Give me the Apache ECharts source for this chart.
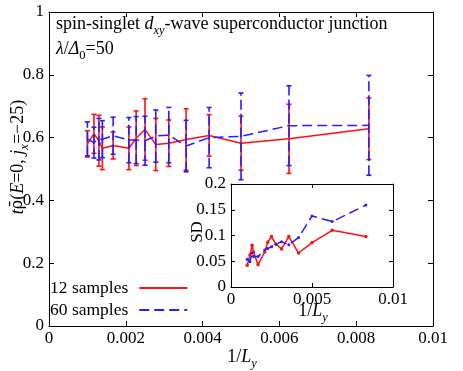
<!DOCTYPE html>
<html>
<head>
<meta charset="utf-8">
<script src="https://cdn.jsdelivr.net/npm/echarts@6/dist/echarts.min.js"></script>
<style>
html, body { margin: 0; padding: 0; background: #fff; }
#chart { width: 463px; height: 371px; }
</style>
</head>
<body>
<div id="chart"></div>
<script>
// 1/Ly of each system size
const invLy = [0.00100, 0.00117, 0.00130, 0.00139, 0.00167, 0.00208, 0.00227, 0.00250,
               0.00278, 0.00312, 0.00357, 0.00417, 0.00500, 0.00625, 0.00833];
// mean LDOS, 12 samples
const mean12 = [0.580, 0.612, 0.590, 0.566, 0.575, 0.566, 0.598, 0.626,
                0.578, 0.582, 0.594, 0.607, 0.582, 0.596, 0.628];
// standard deviation, 12 samples
const sd12 = [0.042, 0.062, 0.081, 0.068, 0.043, 0.068, 0.087, 0.098,
              0.083, 0.074, 0.098, 0.066, 0.086, 0.110, 0.098];
// mean LDOS, 60 samples
const mean60 = [0.596, 0.584, 0.595, 0.595, 0.606, 0.592, 0.592, 0.590,
                0.605, 0.608, 0.573, 0.600, 0.604, 0.638, 0.639];
// standard deviation, 60 samples
const sd60 = [0.054, 0.049, 0.066, 0.059, 0.059, 0.072, 0.075, 0.078,
              0.083, 0.088, 0.082, 0.096, 0.138, 0.127, 0.159];

const mainXTicks = ['0', '0.002', '0.004', '0.006', '0.008', '0.01'];
const mainYTicks = ['0', '0.2', '0.4', '0.6', '0.8', '1'];
const insetXTicks = ['0', '0.005', '0.01'];
const insetYTicks = ['0', '0.05', '0.1', '0.15', '0.2'];

const RED = '#ff1010';
const BLUE = '#2a1cff';
const FONT = 'Liberation Serif';

const chart = echarts.init(document.getElementById('chart'));

function tickFmt(labels, step) {
    return v => labels[Math.round(v / step)];
}

function errBars(color, dash) {
    return function (params, api) {
        const x = api.value(0);
        const lo = api.coord([x, api.value(1)]);
        const hi = api.coord([x, api.value(2)]);
        const w = 2.5;
        const st = { stroke: color, lineWidth: 1.6, lineDash: dash };
        const cap = { stroke: color, lineWidth: 1.6 };
        return {
            type: 'group',
            children: [
                { type: 'line', shape: { x1: lo[0], y1: lo[1], x2: hi[0], y2: hi[1] }, style: st },
                { type: 'line', shape: { x1: lo[0] - w, y1: lo[1], x2: lo[0] + w, y2: lo[1] }, style: cap },
                { type: 'line', shape: { x1: hi[0] - w, y1: hi[1], x2: hi[0] + w, y2: hi[1] }, style: cap }
            ]
        };
    };
}

const lab = { color: '#000', fontFamily: FONT, fontSize: 17 };

function axis(grid, pos, max, step, labels, show, tickLen, margin) {
    return {
        type: 'value', gridIndex: grid, position: pos, min: 0, max: max, interval: step,
        axisLine: { show: true, onZero: false, lineStyle: { color: '#000', width: 1 } },
        axisTick: { show: true, inside: true, length: tickLen, lineStyle: { color: '#000' } },
        splitLine: { show: false },
        axisLabel: Object.assign({ show: show, margin: margin, formatter: tickFmt(labels, step) }, lab)
    };
}

// rich-text styles shared by the math-like labels
const rich = {
    n: { fontFamily: FONT, fontSize: 18, fill: '#000', verticalAlign: 'top', lineHeight: 20 },
    i: { fontFamily: FONT, fontSize: 18, fontStyle: 'italic', fill: '#000', verticalAlign: 'top', lineHeight: 20 },
    r: { fontFamily: 'DejaVu Serif', fontSize: 16, fill: '#000', verticalAlign: 'top', lineHeight: 20, padding: [1, 0, 0, 0] },
    s: { fontFamily: FONT, fontSize: 12.5, fontStyle: 'italic', fill: '#000', verticalAlign: 'top', lineHeight: 14, padding: [9, 0, 0, 0] },
    u: { fontFamily: FONT, fontSize: 12.5, fill: '#000', verticalAlign: 'top', lineHeight: 14, padding: [9, 0, 0, 0] }
};

const option = {
    backgroundColor: '#fff',
    animation: false,
    grid: [
        { left: 49, top: 12, width: 384, height: 314, show: false },
        { left: 231, top: 184, width: 162, height: 103, show: true, backgroundColor: '#fff', borderWidth: 0 }
    ],
    xAxis: [
        axis(0, 'bottom', 0.01, 0.002, mainXTicks, true, 5, 4),
        axis(0, 'top', 0.01, 0.002, mainXTicks, false, 5, 4),
        axis(1, 'bottom', 0.01, 0.005, insetXTicks, true, 4, 4),
        axis(1, 'top', 0.01, 0.005, insetXTicks, false, 4, 4)
    ],
    yAxis: [
        axis(0, 'left', 1, 0.2, mainYTicks, true, 5, 5),
        axis(0, 'right', 1, 0.2, mainYTicks, false, 5, 5),
        axis(1, 'left', 0.2, 0.05, insetYTicks, true, 4, 5),
        axis(1, 'right', 0.2, 0.05, insetYTicks, false, 4, 5)
    ],
    legend: {
        data: ['12 samples', '60 samples'],
        orient: 'vertical',
        align: 'right',
        left: 50,
        top: 279,
        padding: 0,
        itemGap: 4,
        itemWidth: 48,
        itemHeight: 12,
        selectedMode: false,
        itemStyle: { opacity: 0 },
        textStyle: { color: '#000', fontFamily: FONT, fontSize: 17.5, padding: [0, 6, 0, 0] }
    },
    graphic: [
        {
            type: 'text', x: 56, y: 15,
            style: { text: '{n|spin-singlet }{i|d}{s|xy}{n|-wave superconductor junction}', rich: rich }
        },
        {
            type: 'text', x: 56, y: 40,
            style: { text: '{i|λ}{n|/}{i|Δ}{u|0}{n|=50}', rich: rich }
        },
        {
            type: 'text', x: 19, y: 157, rotation: Math.PI / 2,
            style: {
                text: '{i|t}{r|ρ̄}{n|(}{i|E}{n|=0, }{i|j}{s|x}{n|=−25)}',
                align: 'center', verticalAlign: 'middle', rich: rich
            }
        },
        {
            type: 'text', x: 242, y: 358,
            style: { text: '{n|1/}{i|L}{s|y}', align: 'center', verticalAlign: 'middle', rich: rich }
        },
        {
            type: 'text', x: 313, y: 312,
            style: { text: '{n|1/}{i|L}{s|y}', align: 'center', verticalAlign: 'middle', rich: rich }
        },
        {
            type: 'text', x: 198, y: 232, rotation: Math.PI / 2,
            style: { text: 'SD', align: 'center', verticalAlign: 'middle', fontFamily: FONT, fontSize: 17, fill: '#000' }
        }
    ],
    series: [
        {
            name: '12 samples', type: 'line', xAxisIndex: 0, yAxisIndex: 0,
            data: invLy.map((x, i) => [x, mean12[i]]),
            symbol: 'none', z: 3,
            lineStyle: { color: RED, width: 1.5 }, itemStyle: { color: RED }
        },
        {
            name: 'err12', type: 'custom', xAxisIndex: 0, yAxisIndex: 0, z: 3,
            renderItem: errBars(RED, null),
            encode: { x: 0, y: [1, 2] },
            data: invLy.map((x, i) => [x, mean12[i] - sd12[i], mean12[i] + sd12[i]])
        },
        {
            name: '60 samples', type: 'line', xAxisIndex: 0, yAxisIndex: 0,
            data: invLy.map((x, i) => [x, mean60[i]]),
            symbol: 'none', z: 4,
            lineStyle: { color: BLUE, width: 1.5, type: [10, 5] }, itemStyle: { color: BLUE }
        },
        {
            name: 'err60', type: 'custom', xAxisIndex: 0, yAxisIndex: 0, z: 4,
            renderItem: errBars(BLUE, [10, 4]),
            encode: { x: 0, y: [1, 2] },
            data: invLy.map((x, i) => [x, mean60[i] - sd60[i], mean60[i] + sd60[i]])
        },
        {
            name: 'sd12', type: 'line', xAxisIndex: 2, yAxisIndex: 2,
            data: invLy.map((x, i) => [x, sd12[i]]),
            symbol: 'circle', symbolSize: 3.5, z: 5,
            lineStyle: { color: RED, width: 1.5 }, itemStyle: { color: RED }
        },
        {
            name: 'sd60', type: 'line', xAxisIndex: 2, yAxisIndex: 2,
            data: invLy.map((x, i) => [x, sd60[i]]),
            symbol: 'circle', symbolSize: 3, z: 6,
            lineStyle: { color: BLUE, width: 1.5, type: [10, 5] }, itemStyle: { color: BLUE }
        }
    ]
};

chart.setOption(option);
</script>
</body>
</html>
